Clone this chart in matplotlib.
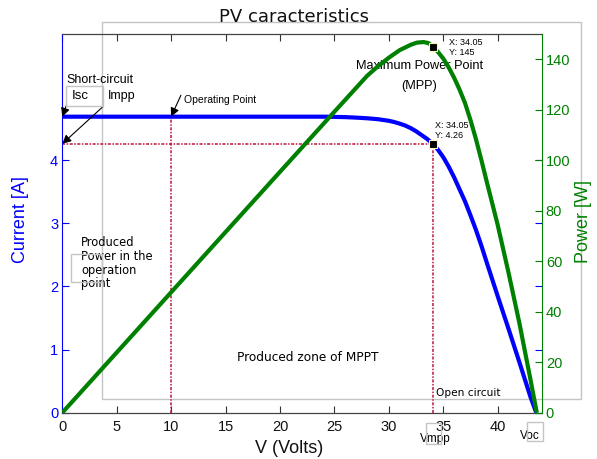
import matplotlib.pyplot as plt
from matplotlib.patches import Rectangle

# I-V curve of the module
volt_i = [0, 10, 20, 24, 26, 27, 28, 29, 30, 30.5, 31, 31.5, 32, 32.5, 33, 33.5, 34.05, 34.5,
          35, 35.5, 36, 36.5, 37, 37.5, 38, 38.5, 39, 40, 41, 42, 43, 43.55]
current = [4.69, 4.69, 4.69, 4.69, 4.683, 4.675, 4.665, 4.65, 4.625, 4.605, 4.58, 4.55, 4.51,
           4.46, 4.40, 4.34, 4.26, 4.17, 4.05, 3.90, 3.73, 3.54, 3.35, 3.13, 2.90, 2.65, 2.38,
           1.85, 1.33, 0.80, 0.26, 0]

# P-V curve of the module
volt_p = [0, 10, 20, 25, 28, 29, 30, 31, 32, 32.6, 33.2, 33.65, 34.05, 34.5, 35, 35.5, 36, 36.5,
          37, 37.5, 38, 38.5, 39, 40, 41, 42, 43, 43.6]
power = [0, 47.7, 95.4, 119.2, 133.4, 137.2, 140.6, 143.6, 145.7, 146.6, 146.8, 146.4, 145,
         143.0, 140.3, 136.8, 132.7, 128.0, 122.7, 116.0, 108.5, 100.2, 91.5, 74.5, 55.5, 35.5,
         13.5, 0]

v_mpp, i_mpp, p_mpp = 34.05, 4.26, 145
v_op, i_op = 10, 4.69
i_sc = 4.69

W, H = 597, 459
fig = plt.figure(figsize=(W / 100, H / 100), dpi=100)
fig.patch.set_facecolor('white')


def px(x, y):
    return x / W, 1 - y / H


def gray_box(x0, y0, x1, y1, z=-5):
    fx, fy = px(x0, y1)
    fig.add_artist(Rectangle((fx, fy), (x1 - x0) / W, (y1 - y0) / H, transform=fig.transFigure,
                             facecolor='none', edgecolor='#c4c4c4', lw=1, zorder=z))


ax = fig.add_axes([62.3 / W, 1 - 412.7 / H, (541.7 - 62.3) / W, (412.7 - 34) / H])
ax.set_facecolor('none')
ax2 = ax.twinx()
ax2.set_facecolor('none')

blue = '#0000ff'
green = '#008000'
red = '#c0143c'

ax.plot(volt_i, current, color=blue, lw=3, solid_capstyle='butt', solid_joinstyle='round', zorder=3)
ax2.plot(volt_p, power, color=green, lw=3, solid_capstyle='butt', solid_joinstyle='round', zorder=3)

# operating point / MPP guide lines
dots = (0, (2, 1, 1, 1))
ax.plot([0, v_mpp], [i_mpp, i_mpp], color=red, lw=1.1, ls=dots, zorder=2)
ax.plot([v_mpp, v_mpp], [0, i_mpp], color=red, lw=1.1, ls=dots, zorder=2)
ax.plot([v_op, v_op], [0, i_op], color=red, lw=1.1, ls=dots, zorder=2)

ax.plot([v_mpp], [i_mpp], 's', color='black', ms=6, mec='#fff5b0', mew=0.8, zorder=5)
ax2.plot([v_mpp], [p_mpp], 's', color='black', ms=6, mec='#fff5b0', mew=0.8, zorder=5)

ax.set_xlim(0, 44.05)
ax.set_ylim(0, 6)
ax2.set_ylim(0, 150)
ax.set_xticks(range(0, 45, 5))
ax.set_yticks([0, 1, 2, 3, 4])
ax2.set_yticks(range(0, 150, 20))

ax.tick_params(axis='x', direction='in', length=5, width=0.8, top=True, pad=5,
               color='#333333', labelcolor='#111111')
ax.tick_params(axis='y', direction='in', length=5, width=0.8, right=True, pad=3,
               color=blue, labelcolor=blue)
ax2.tick_params(axis='y', direction='in', length=5, width=0.8, pad=3, color=green, labelcolor=green)
for lab in ax.get_xticklabels() + ax.get_yticklabels() + ax2.get_yticklabels():
    lab.set_fontfamily('Liberation Sans')
    lab.set_fontsize(10.5)

for s in ['top', 'bottom']:
    ax.spines[s].set_color('#444444')
    ax.spines[s].set_linewidth(0.9)
ax.spines['left'].set_color(blue)
ax.spines['right'].set_visible(False)
for s in ['top', 'bottom', 'left']:
    ax2.spines[s].set_visible(False)
ax2.spines['right'].set_color(green)

ax.set_xlabel('V (Volts)', family='Liberation Sans', size=13, color='#111111')
ax.xaxis.set_label_coords(0.474, -0.072)
ax.set_ylabel('Current [A]', family='Liberation Sans', size=13, color=blue)
ax.yaxis.set_label_coords(-0.07, 0.51)
ax2.set_ylabel('Power [W]', family='Liberation Sans', size=13, color=green)
ax2.yaxis.set_label_coords(1.069, 0.506)

fig.text(0.4925, 0.962, 'PV caracteristics', family='DejaVu Sans', size=13,
         ha='center', va='center', color='#111111')

# annotation frames
gray_box(102, 21.5, 581, 399)
gray_box(66, 86, 103, 106, z=5)
gray_box(71, 254, 102, 282, z=5)
gray_box(426, 423, 441, 444, z=5)
gray_box(527, 422, 543, 441, z=5)

arrow = dict(arrowstyle='-|>', color='black', lw=0.8, mutation_scale=13, shrinkA=0, shrinkB=0)
ax.annotate('', xy=(0, i_sc), xytext=(0.40, 4.88), arrowprops=arrow, annotation_clip=False)
ax.annotate('', xy=(0, i_mpp), xytext=(3.74, 4.85), arrowprops=arrow, annotation_clip=False)
ax.annotate('', xy=(v_op, i_op), xytext=(10.9, 5.03), arrowprops=arrow, annotation_clip=False)

lib = 'Liberation Sans'
ax.text(3.43, 5.27, 'Short-circuit', family=lib, size=9, ha='center', va='center')
ax.text(1.62, 5.02, 'Isc', family=lib, size=9.5, ha='center', va='center')
ax.text(5.48, 5.02, 'Impp', family=lib, size=9, ha='center', va='center')
ax.text(11.17, 4.95, 'Operating Point', family=lib, size=7.5, ha='left', va='center')
ax.text(32.85, 5.49, 'Maximum Power Point', family=lib, size=9.2, ha='center', va='center')
ax.text(32.76, 5.18, '(MPP)', family=lib, size=9.2, ha='center', va='center')
ax.text(35.5, 5.79, 'X: 34.05\nY: 145', family=lib, size=6.5, ha='left', va='center',
        linespacing=1.15)
ax.text(34.2, 4.465, 'X: 34.05\nY: 4.26', family=lib, size=6.5, ha='left', va='center',
        linespacing=1.15)
ax.text(1.72, 2.37, 'Produced\nPower in the\noperation\npoint', family='DejaVu Sans', size=8.3,
        ha='left', va='center', linespacing=1.08)
ax.text(16.03, 0.88, 'Produced zone of MPPT', family='DejaVu Sans', size=8.7, ha='left', va='center')
ax.text(34.37, 0.32, 'Open circuit', family='DejaVu Sans', size=7.6, ha='left', va='center')
ax.text(34.27, -0.41, 'Vmpp', family=lib, size=8.5, ha='center', va='center', clip_on=False)
ax.text(42.93, -0.37, 'Voc', family=lib, size=8.5, ha='center', va='center', clip_on=False)

fig.savefig('out.png', dpi=100)
